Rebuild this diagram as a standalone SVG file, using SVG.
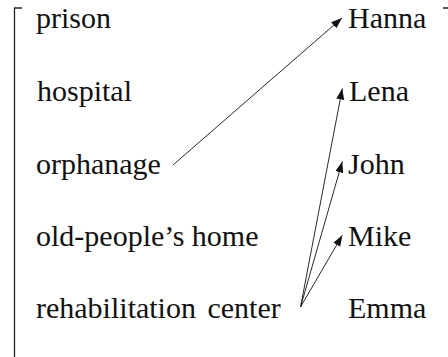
<svg xmlns="http://www.w3.org/2000/svg" width="448" height="357" viewBox="0 0 448 357">
  <style>
    .lbl { font-family: "Liberation Serif", "Times New Roman", "DejaVu Serif", serif; font-size: 30px; fill: #111; }
    .bracket { fill: none; stroke: #222; stroke-width: 1.3; }
    .edge { fill: none; stroke: #111; stroke-width: 0.9; }
  </style>
  <defs>
    <marker id="arrow" markerUnits="userSpaceOnUse" markerWidth="12" markerHeight="10" refX="11" refY="4" orient="auto">
      <path d="M0,0 L11,4 L0,8 Z" fill="#111"/>
    </marker>
  </defs>

  <!-- matrix brackets -->
  <g id="brackets">
    <path class="bracket" d="M22,8 H14.5 V358 H22"/>
    <path class="bracket" d="M443,8 H449.8 V358 H443"/>
  </g>

  <!-- left column -->
  <g id="prison"><text class="lbl" font-family="serif" x="36" y="28">prison</text></g>
  <g id="hospital"><text class="lbl" font-family="serif" x="37" y="101">hospital</text></g>
  <g id="orphanage"><text class="lbl" font-family="serif" x="36" y="173.5">orphanage</text></g>
  <g id="old-peoples-home"><text class="lbl" font-family="serif" x="36" y="246">old-people’s home</text></g>
  <g id="rehabilitation-center"><text class="lbl" font-family="serif" x="36" y="318" word-spacing="4">rehabilitation center</text></g>

  <!-- right column -->
  <g id="hanna"><text class="lbl" font-family="serif" x="348" y="28">Hanna</text></g>
  <g id="lena"><text class="lbl" font-family="serif" x="349" y="101">Lena</text></g>
  <g id="john"><text class="lbl" font-family="serif" x="348" y="173.5">John</text></g>
  <g id="mike"><text class="lbl" font-family="serif" x="348" y="246">Mike</text></g>
  <g id="emma"><text class="lbl" font-family="serif" x="348" y="318">Emma</text></g>

  <!-- connectors -->
  <g id="connectors">
    <line class="edge" x1="173" y1="165" x2="342" y2="18" marker-end="url(#arrow)"/>
    <line class="edge" x1="300.5" y1="307" x2="342.3" y2="88.5" marker-end="url(#arrow)"/>
    <line class="edge" x1="300.5" y1="307" x2="342.3" y2="161.5" marker-end="url(#arrow)"/>
    <line class="edge" x1="300.5" y1="307" x2="342.3" y2="235.3" marker-end="url(#arrow)"/>
  </g>
</svg>
